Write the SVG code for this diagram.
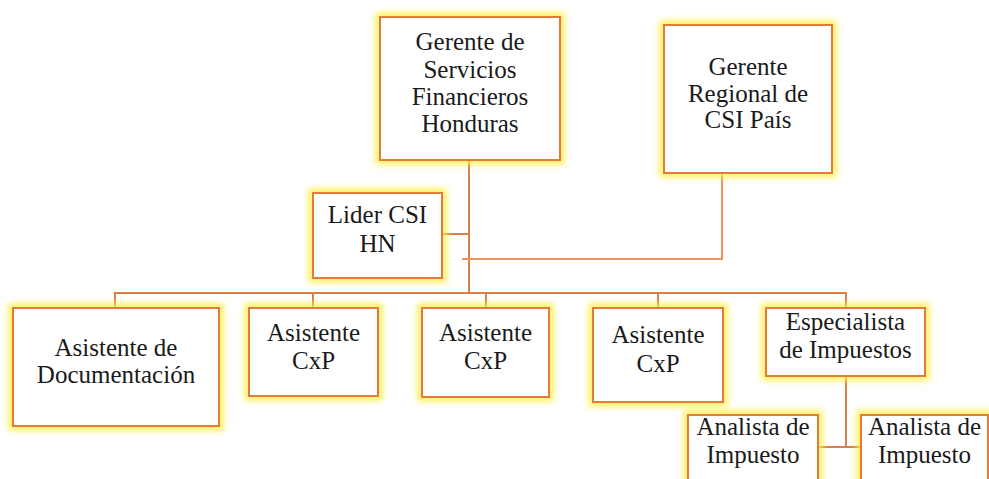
<svg xmlns="http://www.w3.org/2000/svg" width="989" height="479" viewBox="0 0 989 479">
<defs>
<filter id="glow" x="-20%" y="-20%" width="140%" height="140%">
<feGaussianBlur stdDeviation="3"/>
</filter>
<style>
.g{fill:none;stroke:#FFEF3A;stroke-width:9;filter:url(#glow);opacity:0.85}
.b{fill:#FFFFFF;stroke:#E57B3A;stroke-width:2}
.t{font-family:"Liberation Serif","Times New Roman",Tinos,"Noto Serif","DejaVu Serif",FreeSerif,Times,serif;font-size:25px;fill:#1A1A1A;text-anchor:middle}
.c{fill:none;stroke:#D9804A;stroke-width:2}
</style>
</defs>
<g id="connectors">
<path class="c" d="M469 160 V293"/>
<path class="c" d="M442 234 H469"/>
<path class="c" d="M722 173 V259 H462" style="stroke:#F0925A"/>
<path class="c" d="M115 308 V293 H846 V308"/>
<path class="c" d="M313 293 V308"/>
<path class="c" d="M486 293 V308"/>
<path class="c" d="M658 293 V308"/>
<path class="c" d="M846 376 V447"/>
<path class="c" d="M818 447 H861"/>
</g>
<g id="gerente-servicios">
<rect class="g" x="380" y="17" width="180" height="143"/>
<rect class="b" x="380" y="17" width="180" height="143"/>
<text class="t" x="470" y="50">Gerente de</text>
<text class="t" x="470" y="78">Servicios</text>
<text class="t" x="470" y="105">Financieros</text>
<text class="t" x="470" y="132">Honduras</text>
</g>
<g id="gerente-regional">
<rect class="g" x="664" y="25" width="168" height="148"/>
<rect class="b" x="664" y="25" width="168" height="148"/>
<text class="t" x="748" y="75">Gerente</text>
<text class="t" x="748" y="102">Regional de</text>
<text class="t" x="748" y="128">CSI País</text>
</g>
<g id="lider-csi">
<rect class="g" x="313" y="193" width="129" height="85"/>
<rect class="b" x="313" y="193" width="129" height="85"/>
<text class="t" x="377.5" y="223">Lider CSI</text>
<text class="t" x="377.5" y="252">HN</text>
</g>
<g id="asistente-doc">
<rect class="g" x="13" y="308" width="206" height="118"/>
<rect class="b" x="13" y="308" width="206" height="118"/>
<text class="t" x="116" y="356">Asistente de</text>
<text class="t" x="116" y="383">Documentación</text>
</g>
<g id="asistente-cxp-1">
<rect class="g" x="249" y="308" width="129" height="88"/>
<rect class="b" x="249" y="308" width="129" height="88"/>
<text class="t" x="313.5" y="341">Asistente</text>
<text class="t" x="313.5" y="369">CxP</text>
</g>
<g id="asistente-cxp-2">
<rect class="g" x="422" y="308" width="127" height="89"/>
<rect class="b" x="422" y="308" width="127" height="89"/>
<text class="t" x="485.5" y="341">Asistente</text>
<text class="t" x="485.5" y="369">CxP</text>
</g>
<g id="asistente-cxp-3">
<rect class="g" x="593" y="308" width="130" height="94"/>
<rect class="b" x="593" y="308" width="130" height="94"/>
<text class="t" x="658" y="343">Asistente</text>
<text class="t" x="658" y="372">CxP</text>
</g>
<g id="especialista">
<rect class="g" x="766" y="308" width="159" height="68"/>
<rect class="b" x="766" y="308" width="159" height="68"/>
<text class="t" x="845.5" y="330">Especialista</text>
<text class="t" x="845.5" y="358">de Impuestos</text>
</g>
<g id="analista-1">
<rect class="g" x="688" y="415" width="130" height="80"/>
<rect class="b" x="688" y="415" width="130" height="80"/>
<text class="t" x="753" y="435">Analista de</text>
<text class="t" x="753" y="463">Impuesto</text>
</g>
<g id="analista-2">
<rect class="g" x="861" y="415" width="127" height="80"/>
<rect class="b" x="861" y="415" width="127" height="80"/>
<text class="t" x="924.5" y="435">Analista de</text>
<text class="t" x="924.5" y="463">Impuesto</text>
</g>
</svg>
